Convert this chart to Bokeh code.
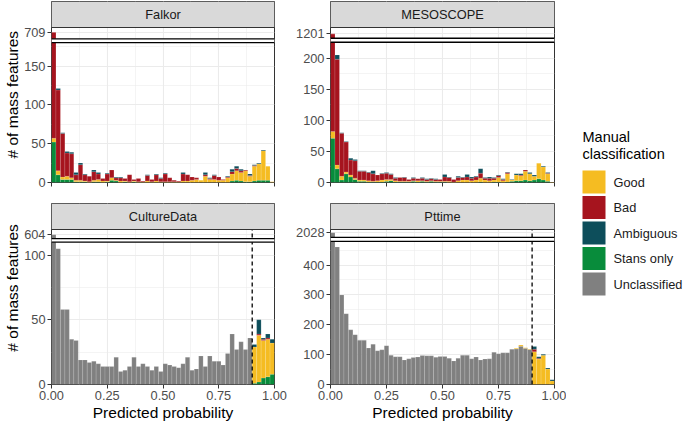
import numpy as np
from bokeh.plotting import figure
from bokeh.models import Range1d, FixedTicker, Span, BoxAnnotation, NumeralTickFormatter, Label
from bokeh.layouts import row, column
from bokeh.embed import file_html
from bokeh.resources import INLINE
from bokeh.core.properties import value

FONT = "Liberation Sans"

# ---------------- data ----------------
bin_edges = [0.00, 0.02, 0.04, 0.06, 0.08, 0.10, 0.12, 0.14, 0.16, 0.18,
             0.20, 0.22, 0.24, 0.26, 0.28, 0.30, 0.32, 0.34, 0.36, 0.38,
             0.40, 0.42, 0.44, 0.46, 0.48, 0.50, 0.52, 0.54, 0.56, 0.58,
             0.60, 0.62, 0.64, 0.66, 0.68, 0.70, 0.72, 0.74, 0.76, 0.78,
             0.80, 0.82, 0.84, 0.86, 0.88, 0.90, 0.92, 0.94, 0.96, 0.98, 1.00]

classes = ["Good", "Bad", "Ambiguous", "Stans only", "Unclassified"]
class_colors = ["#F5BC22", "#A6141E", "#0D4E5B", "#088C3B", "#808080"]

ZERO45 = [0, 0, 0, 0, 0, 0, 0, 0, 0, 0, 0, 0, 0, 0, 0, 0, 0, 0, 0, 0,
          0, 0, 0, 0, 0, 0, 0, 0, 0, 0, 0, 0, 0, 0, 0, 0, 0, 0, 0, 0,
          0, 0, 0, 0, 0]
ZERO50 = ZERO45 + [0, 0, 0, 0, 0]

falkor_stans = [52, 10, 4, 4, 4, 1, 1, 1, 0, 1, 1, 0, 1, 3, 2, 0, 1, 0, 1, 0,
                0, 0, 0, 0, 0, 0, 0, 0, 0, 0, 0, 0, 0, 0, 0, 0, 0, 0, 0, 0,
                2, 3, 2, 1, 1, 2, 3, 3, 3, 0]
falkor_good = [5, 5, 3, 4, 2, 2, 2, 1, 1, 2, 3, 2, 1, 3, 1, 2, 1, 1, 1, 1,
               1, 2, 1, 2, 1, 1, 1, 1, 1, 2, 2, 3, 4, 3, 8, 4, 4, 3, 3, 6,
               9, 12, 11, 14, 7, 19, 21, 38, 18, 1]
falkor_bad = [650, 104, 56, 30, 31, 7, 20, 8, 7, 11, 7, 3, 9, 10, 3, 4, 3, 9, 2, 4,
              1, 7, 3, 8, 4, 10, 5, 2, 1, 9, 8, 4, 2, 0, 2, 1, 5, 4, 1, 1,
              3, 3, 2, 1, 1, 1, 0, 0, 0, 0]
falkor_amb = [2, 2, 1, 2, 2, 3, 2, 1, 0, 2, 2, 0, 1, 0, 1, 1, 0, 0, 0, 0,
              0, 1, 0, 1, 1, 1, 0, 0, 0, 2, 0, 0, 0, 0, 3, 1, 1, 0, 0, 1,
              3, 3, 2, 0, 2, 1, 1, 1, 0, 0]

meso_stans = [71, 22, 4, 14, 9, 5, 2, 2, 1, 1, 1, 1, 2, 3, 1, 1, 1, 1, 2, 1,
              2, 1, 2, 1, 1, 1, 0, 0, 0, 0, 0, 0, 0, 1, 0, 0, 1, 1, 0, 1,
              2, 3, 3, 4, 3, 4, 6, 4, 2, 0]
meso_good = [11, 6, 6, 3, 3, 2, 2, 2, 2, 1, 2, 3, 3, 2, 2, 1, 1, 1, 1, 2,
             1, 1, 1, 1, 1, 1, 2, 1, 3, 4, 4, 3, 4, 6, 4, 3, 3, 7, 3, 13,
             2, 9, 8, 14, 11, 6, 25, 21, 12, 1]
meso_bad = [1117, 170, 69, 48, 24, 28, 14, 14, 13, 12, 9, 10, 10, 8, 4, 6, 6, 3, 4, 3,
            4, 3, 3, 3, 3, 7, 6, 4, 5, 4, 5, 4, 5, 8, 3, 4, 3, 3, 2, 2,
            0, 0, 1, 2, 0, 0, 0, 0, 1, 0]
meso_amb = [2, 7, 1, 1, 3, 2, 1, 1, 1, 5, 0, 1, 1, 1, 1, 0, 1, 0, 1, 0,
            1, 1, 1, 1, 0, 4, 1, 0, 2, 1, 4, 2, 1, 7, 1, 2, 1, 1, 1, 1,
            1, 2, 2, 0, 2, 2, 0, 1, 1, 0]

culture_uncl = [604, 105, 58, 58, 35, 34, 19, 19, 17, 18, 16, 14, 14, 14, 21, 10, 11, 14, 21, 14,
                16, 14, 11, 14, 10, 16, 15, 14, 13, 16, 21, 11, 12, 22, 14, 22, 18, 18, 15, 24,
                39, 27, 33, 27, 36, 0, 0, 0, 0, 0]
culture_stans = ZERO45 + [1, 2, 5, 6, 8]
culture_good = ZERO45 + [28, 36, 29, 29, 24]
culture_bad = ZERO45 + [0, 1, 1, 1, 0]
culture_amb = ZERO45 + [2, 11, 1, 3, 3]

pttime_uncl = [2028, 460, 300, 237, 183, 167, 148, 148, 122, 135, 113, 116, 130, 98, 93, 93, 82, 86, 90, 92,
               97, 96, 96, 91, 94, 94, 88, 79, 88, 98, 98, 86, 92, 82, 85, 86, 108, 103, 106, 106,
               118, 119, 128, 121, 117, 0, 0, 0, 0, 0]
pttime_stans = ZERO50
pttime_good = [0, 0, 0, 0, 0, 0, 0, 0, 0, 0, 0, 0, 0, 0, 0, 0, 0, 0, 0, 0,
               0, 0, 0, 0, 0, 0, 0, 0, 0, 0, 0, 0, 0, 0, 0, 0, 0, 0, 0, 0,
               0, 2, 4, 2, 2, 110, 85, 98, 52, 12]
pttime_bad = ZERO45 + [8, 3, 0, 0, 0]
pttime_amb = ZERO45 + [9, 5, 3, 3, 4]

# stacking order, bottom -> top
stack_order = ["Unclassified", "Stans only", "Good", "Bad", "Ambiguous"]

panels = {
    "Falkor": {"Unclassified": ZERO50, "Stans only": falkor_stans, "Good": falkor_good,
               "Bad": falkor_bad, "Ambiguous": falkor_amb},
    "MESOSCOPE": {"Unclassified": ZERO50, "Stans only": meso_stans, "Good": meso_good,
                  "Bad": meso_bad, "Ambiguous": meso_amb},
    "CultureData": {"Unclassified": culture_uncl, "Stans only": culture_stans, "Good": culture_good,
                    "Bad": culture_bad, "Ambiguous": culture_amb},
    "Pttime": {"Unclassified": pttime_uncl, "Stans only": pttime_stans, "Good": pttime_good,
               "Bad": pttime_bad, "Ambiguous": pttime_amb},
}

# broken y-axis settings: (display top, break low, break high, display position of max, ticks, minor ticks)
axis_cfg = {
    "Falkor": (199.6, 180.0, 185.0, 193.6, [0, 50, 100, 150], [25, 75, 125, 175]),
    "MESOSCOPE": (249.0, 225.3, 231.7, 238.8, [0, 50, 100, 150, 200], [25, 75, 125, 175]),
    "CultureData": (119.8, 110.0, 112.7, 115.7, [0, 50, 100], [25, 75]),
    "Pttime": (519.0, 479.0, 492.6, 508.0, [0, 100, 200, 300, 400], [50, 150, 250, 350, 450]),
}
threshold = 0.9

# ---------------- layout constants ----------------
FW = 224          # frame width (plot area)
FH = 155          # plot area height
SH = 26           # strip height
GRID = "#EBEBEB"
DARK = "#333333"


def squash(v, b1, b2, m, vmax):
    v = np.asarray(v, dtype=float)
    out = v.copy()
    hi = v > b1
    out[hi] = b2 + (v[hi] - b1) * (m - b2) / (vmax - b1)
    return out


def ytitle(h, yc):
    t = figure(width=21, height=h, x_range=Range1d(0, 21), y_range=Range1d(0, h),
               toolbar_location=None, output_backend="svg", title=None,
               x_axis_location=None, y_axis_location=None,
               min_border_left=0, min_border_right=0, min_border_top=0, min_border_bottom=0)
    t.grid.visible = False
    t.outline_line_color = None
    t.text(x=[12], y=[h - yc], text=["# of mass features"], angle=np.pi / 2,
           text_align="center", text_baseline="middle", text_font=value(FONT),
           text_font_size="15.5px", text_color="black")
    return t


def panel(name, lb, rb, bt, bb, xlab, dashed):
    T, b1, b2, m, ticks, minor = axis_cfg[name]
    T_ext = T * (FH + SH) / FH
    layers = panels[name]
    p = figure(width=lb + FW + rb, height=bt + FH + SH + bb,
               x_range=Range1d(0, 1), y_range=Range1d(0, T_ext),
               toolbar_location=None, output_backend="svg", title=None,
               min_border_left=lb, min_border_right=rb, min_border_top=bt, min_border_bottom=bb)
    p.background_fill_color = "white"
    p.outline_line_color = DARK
    p.outline_line_width = 1

    left = np.array(bin_edges[:-1])
    right = np.array(bin_edges[1:])
    total = np.zeros(len(left))
    for c in stack_order:
        total = total + np.array(layers[c], dtype=float)
    vmax = float(total.max())

    cum = np.zeros(len(left))
    for c in stack_order:
        vals = np.array(layers[c], dtype=float)
        bot = cum
        top = cum + vals
        cum = top
        keep = vals > 0
        if keep.any():
            color = class_colors[classes.index(c)]
            p.quad(left=left[keep], right=right[keep],
                   bottom=squash(bot[keep], b1, b2, m, vmax),
                   top=squash(top[keep], b1, b2, m, vmax),
                   fill_color=color, line_color="white", line_alpha=0.25, line_width=0.5)

    if dashed:
        p.segment(x0=[threshold], y0=[0], x1=[threshold], y1=[T], line_color="black",
                  line_width=1.3, line_dash="4 3")

    # break band
    p.add_layout(BoxAnnotation(bottom=b1, top=b2, fill_color="white", fill_alpha=1.0,
                               line_color=None, level="annotation"))
    for yb in (b1, b2):
        p.add_layout(Span(location=yb, dimension="width", line_color="black",
                          line_width=1.3, level="annotation"))

    # facet strip
    p.add_layout(BoxAnnotation(bottom=T, fill_color="#D9D9D9", fill_alpha=1.0,
                               line_color=None, level="annotation"))
    p.add_layout(Span(location=T, dimension="width", line_color=DARK, line_width=1,
                      level="annotation"))
    p.add_layout(Label(x=0.5, y=(T + T_ext) / 2, text=name, text_align="center",
                       text_baseline="middle", text_font=FONT, text_font_size="12.8px",
                       text_color="#1A1A1A", level="annotation"))

    # axes
    p.xaxis.ticker = FixedTicker(ticks=[0, 0.25, 0.5, 0.75, 1.0],
                                 minor_ticks=[0.125, 0.375, 0.625, 0.875])
    p.xaxis.formatter = NumeralTickFormatter(format="0.00")
    p.yaxis.ticker = FixedTicker(ticks=ticks + [m], minor_ticks=minor)
    overrides = {float(t): str(t) for t in ticks}
    overrides[float(m)] = str(int(vmax))
    p.yaxis.major_label_overrides = overrides
    for ax in (p.xaxis[0], p.yaxis[0]):
        ax.axis_line_color = None
        ax.major_tick_line_color = DARK
        ax.major_tick_out = 4
        ax.major_tick_in = 0
        ax.minor_tick_line_color = None
        ax.major_label_text_font = FONT
        ax.major_label_text_font_size = "12.8px"
        ax.major_label_text_color = "#4D4D4D"
        ax.major_label_standoff = 2
        ax.axis_label_text_font = FONT
        ax.axis_label_text_font_size = "15.5px"
        ax.axis_label_text_font_style = "normal"
        ax.axis_label_text_color = "black"
        ax.axis_label_standoff = 1
    if xlab:
        p.xaxis.axis_label = "Predicted probability"
    else:
        p.xaxis.major_label_text_color = None

    for g in (p.xgrid[0], p.ygrid[0]):
        g.grid_line_color = GRID
        g.grid_line_width = 1.1
        g.minor_grid_line_color = GRID
        g.minor_grid_line_width = 0.55
    return p


LB_L, RB_L = 29, 16
LB_R, RB_R = 40, 12
TOP_H = 1 + SH + FH + 21      # 203
BOT_H = 0 + SH + FH + 41      # 222

top_row = row(ytitle(TOP_H, 104.5),
              panel("Falkor", LB_L, RB_L, 1, 21, False, False),
              panel("MESOSCOPE", LB_R, RB_R, 1, 21, False, False))
bot_row = row(ytitle(BOT_H, 306.5 - TOP_H),
              panel("CultureData", LB_L, RB_L, 0, 41, True, True),
              panel("Pttime", LB_R, RB_R, 0, 41, True, True))

# ---------------- legend ----------------
LX0 = 21 + (LB_L + FW + RB_L) + (LB_R + FW + RB_R)
LW, LH = 685 - LX0, 425
lg = figure(width=LW, height=LH, x_range=Range1d(0, LW), y_range=Range1d(LH, 0),
            toolbar_location=None, output_backend="svg", title=None,
            x_axis_location=None, y_axis_location=None,
            min_border_left=0, min_border_right=0, min_border_top=0, min_border_bottom=0)
lg.grid.visible = False
lg.outline_line_color = None
key_x0, key_w, key_h, key_top0, key_pitch = 582 - LX0, 23, 23, 170, 25.5
key_tops = [key_top0 + i * key_pitch for i in range(len(classes))]
lg.quad(left=[key_x0] * len(classes), right=[key_x0 + key_w] * len(classes),
        top=key_tops, bottom=[t + key_h for t in key_tops],
        fill_color=class_colors, line_color=None)
lg.text(x=[key_x0 + key_w + 8] * len(classes), y=[t + key_h / 2 for t in key_tops], text=classes,
        text_baseline="middle", text_align="left", text_font=value(FONT),
        text_font_size="12.8px", text_color="#1A1A1A")
lg.text(x=[key_x0, key_x0], y=[136, 153], text=["Manual", "classification"],
        text_baseline="middle", text_align="left", text_font=value(FONT),
        text_font_size="14.5px", text_color="black")

layout = row(column(top_row, bot_row), lg)

open("out.html", "w").write(file_html(layout, INLINE))
